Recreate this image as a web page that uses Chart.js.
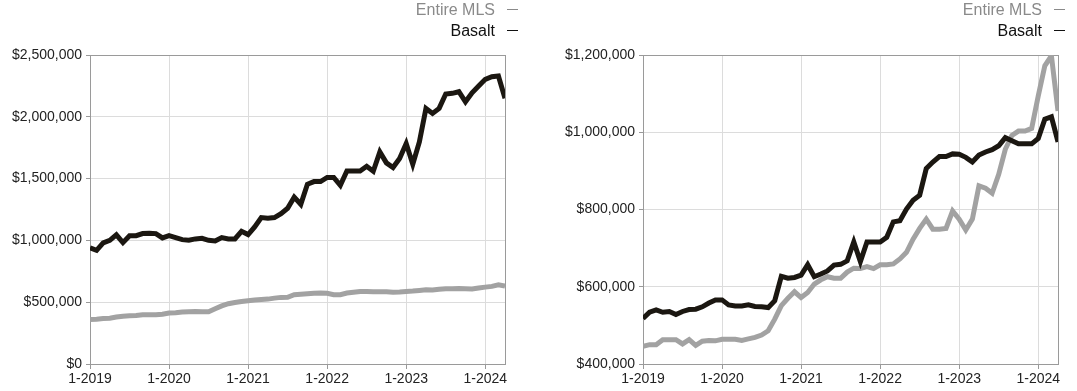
<!doctype html>
<html lang="en">
<head>
<meta charset="utf-8">
<title>Median Sales Price - Basalt vs Entire MLS</title>
<style>
  body { margin: 0; background: #fff; font-family: "Liberation Sans", Arial, sans-serif; }
  .panel { position: absolute; top: 0; height: 391px; }
  .legend { position: absolute; text-align: right; font-size: 16px; line-height: 21px; }
  .legend div { white-space: nowrap; }
  .legend .dash { display: inline-block; width: 11px; height: 1.5px; margin-left: 12px; vertical-align: 5px; }
  canvas { position: absolute; top: 0; left: 0; }
</style>
</head>
<body>

<div class="panel" style="left:0; width:538px;">
  <canvas id="chartLeft" width="538" height="391"></canvas>
  <div class="legend" id="legendLeft" style="right:20px; top:-1px;"></div>
</div>

<div class="panel" style="left:538px; width:539px;">
  <canvas id="chartRight" width="539" height="391"></canvas>
  <div class="legend" id="legendRight" style="right:12px; top:-1px;"></div>
</div>

<script src="https://cdn.jsdelivr.net/npm/chart.js"></script>
<script>
// series names and year labels
const seriesNames = ['Entire MLS', 'Basalt'];
const yearLabels = ['1-2019', '1-2020', '1-2021', '1-2022', '1-2023', '1-2024'];

// left chart, monthly values Jan 2019 - Apr 2024
const leftBasalt = [
  940000, 920000, 980000, 1000000, 1045000, 982000, 1038000, 1038000, 1055000, 1057000, 1055000, 1020000,
  1038000, 1023000, 1006000, 1001000, 1012000, 1017000, 1001000, 995000, 1023000, 1012000, 1012000, 1074000,
  1047000, 1109000, 1185000, 1180000, 1185000, 1217000, 1260000, 1350000, 1292000, 1454000, 1476000, 1476000,
  1509000, 1509000, 1446000, 1562000, 1562000, 1562000, 1600000, 1560000, 1716000, 1627000, 1590000, 1663000,
  1784000, 1617000, 1797000, 2068000, 2027000, 2068000, 2184000, 2190000, 2203000, 2121000, 2194000, 2249000,
  2303000, 2324000, 2330000, 2150000
];
const leftMLS = [
  360000, 362000, 368000, 371000, 380000, 387000, 390000, 393000, 398000, 398000, 398000, 402000,
  412000, 415000, 420000, 423000, 424000, 422000, 423000, 447000, 470000, 488000, 498000, 505000,
  512000, 518000, 522000, 525000, 533000, 539000, 540000, 561000, 565000, 569000, 572000, 574000,
  572000, 561000, 561000, 574000, 580000, 587000, 586000, 585000, 585000, 584000, 581000, 583000,
  587000, 590000, 595000, 601000, 598000, 605000, 609000, 608000, 610000, 609000, 607000, 615000,
  622000, 628000, 640000, 630000
];

// right chart
const rightBasalt = [
  518000, 534000, 540000, 534000, 536000, 528000, 536000, 541000, 542000, 548000, 558000, 566000,
  566000, 553000, 550000, 550000, 553000, 549000, 548000, 546000, 564000, 627000, 622000, 624000,
  630000, 657000, 626000, 633000, 641000, 656000, 658000, 667000, 716000, 665000, 716000, 716000,
  716000, 728000, 768000, 771000, 801000, 824000, 837000, 906000, 923000, 937000, 937000, 944000,
  943000, 935000, 923000, 941000, 949000, 955000, 965000, 986000, 978000, 970000, 970000, 970000,
  984000, 1034000, 1040000, 975000
];
const rightMLS = [
  446000, 450000, 450000, 463000, 463000, 463000, 452000, 463000, 448000, 459000, 461000, 460000,
  464000, 464000, 464000, 461000, 465000, 469000, 475000, 486000, 516000, 551000, 570000, 587000,
  572000, 585000, 607000, 618000, 626000, 622000, 622000, 638000, 648000, 647000, 652000, 647000,
  657000, 657000, 659000, 672000, 689000, 723000, 751000, 775000, 749000, 749000, 751000, 796000,
  775000, 747000, 775000, 861000, 855000, 842000, 891000, 956000, 992000, 1003000, 1003000, 1010000,
  1094000, 1172000, 1198000, 1055000
];

const basaltColor = '#1b1711';
const mlsColor = '#a2a2a2';

// frame around plot area (top and right sides)
const frame = {
  id: 'frame',
  beforeDatasetsDraw(chart) {
    const a = chart.chartArea;
    const ctx = chart.ctx;
    ctx.save();
    ctx.strokeStyle = '#9a9a9a';
    ctx.lineWidth = 1;
    ctx.strokeRect(a.left + 0.5, a.top + 0.5, a.right - a.left, a.bottom - a.top);
    ctx.restore();
  }
};

function money(v) {
  return '$' + Number(v).toLocaleString('en-US');
}

function makeChart(id, basalt, mls, yMin, yMax, yStep, yWidth, padRight) {
  const toPts = arr => arr.map((v, i) => ({ x: i, y: v }));
  return new Chart(document.getElementById(id), {
    type: 'line',
    data: {
      datasets: [
        { label: seriesNames[1], data: toPts(basalt), borderColor: basaltColor, borderWidth: 5, pointRadius: 0, tension: 0 },
        { label: seriesNames[0], data: toPts(mls), borderColor: mlsColor, borderWidth: 5, pointRadius: 0, tension: 0 }
      ]
    },
    options: {
      responsive: false,
      animation: false,
      devicePixelRatio: 1,
      layout: { padding: { top: 55, right: padRight, bottom: 0, left: 0 } },
      plugins: { legend: { display: false }, tooltip: { enabled: false } },
      scales: {
        x: {
          type: 'linear',
          min: 0,
          max: basalt.length - 1,
          afterBuildTicks: s => { s.ticks = yearLabels.map((_, k) => ({ value: k * 12 })); },
          ticks: {
            autoSkip: false,
            maxRotation: 0,
            padding: 2,
            color: '#222',
            font: { family: 'Liberation Sans', size: 14 },
            callback: v => yearLabels[Math.round(v / 12)]
          },
          grid: { color: '#dcdcdc', tickLength: 5, tickColor: '#999' },
          border: { color: '#8a8a8a' },
          afterFit: s => { s.height = 27; }
        },
        y: {
          min: yMin,
          max: yMax,
          ticks: {
            stepSize: yStep,
            padding: 4,
            color: '#222',
            font: { family: 'Liberation Sans', size: 14 },
            callback: v => money(v)
          },
          grid: { color: '#dcdcdc', tickLength: 4, tickColor: '#999' },
          border: { color: '#8a8a8a' },
          afterFit: s => { s.width = yWidth; }
        }
      }
    },
    plugins: [frame]
  });
}

function makeLegend(id) {
  const el = document.getElementById(id);
  el.innerHTML =
    '<div style="color:#8a8a8a">' + seriesNames[0] + '<span class="dash" style="background:#8a8a8a"></span></div>' +
    '<div style="color:#111">' + seriesNames[1] + '<span class="dash" style="background:#111"></span></div>';
}

makeChart('chartLeft', leftBasalt, leftMLS, 0, 2500000, 500000, 90, 33);
makeChart('chartRight', rightBasalt, rightMLS, 400000, 1200000, 200000, 105, 19);
makeLegend('legendLeft');
makeLegend('legendRight');
</script>
</body>
</html>
